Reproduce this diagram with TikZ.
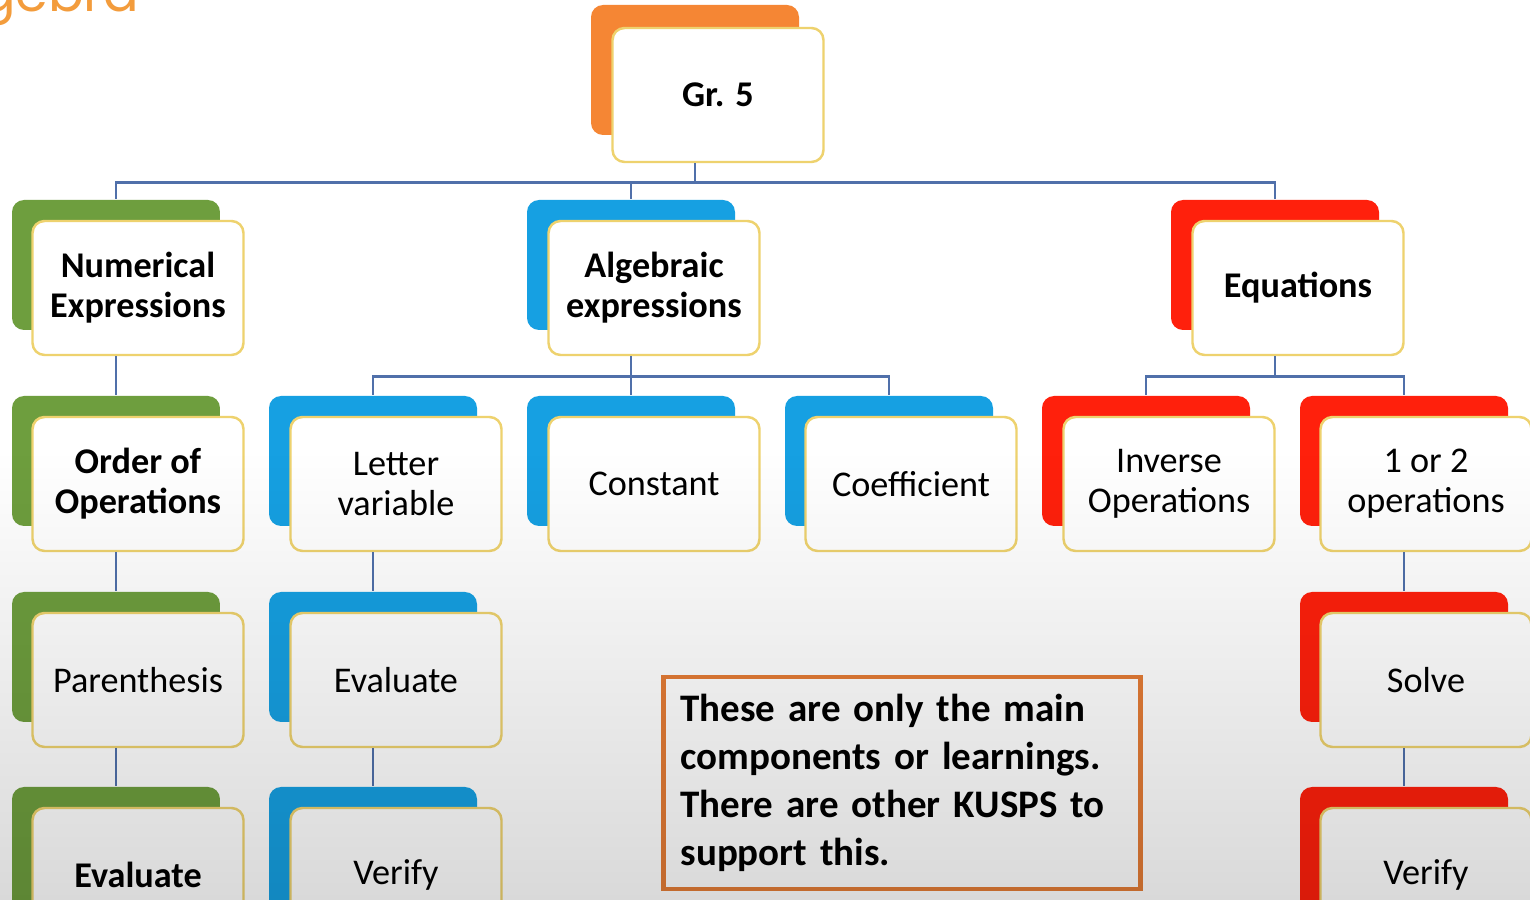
\documentclass[tikz,border=0pt]{standalone}
\usepackage{fontspec}
\setmainfont{Carlito}
\newfontfamily\titlefont{Poppins}
\usetikzlibrary{fadings}
\definecolor{gradeorange}{RGB}{245,134,52}
\definecolor{numgreen}{RGB}{110,158,62}
\definecolor{algblue}{RGB}{22,160,226}
\definecolor{equred}{RGB}{255,32,12}
\definecolor{rim}{RGB}{238,210,110}
\definecolor{linkblue}{RGB}{80,112,170}
\definecolor{noteorange}{RGB}{228,124,54}
\definecolor{titleorange}{RGB}{243,156,60}
\tikzfading[name=fade down, top color=transparent!100, bottom color=transparent!0]
\tikzset{
  back/.style={fill=#1, rounded corners=1.2mm, minimum width=20.8mm, minimum height=13mm, inner sep=0},
  front/.style={draw=rim, line width=0.7pt, fill=white, rounded corners=1.2mm, minimum width=21.1mm,
    minimum height=13.4mm, inner sep=0, align=center, font=\fontsize{10.3}{11.4}\selectfont},
  link/.style={draw=linkblue, line width=0.8pt}
}
\begin{document}
\begin{tikzpicture}[x=0.1mm,y=-0.1mm]
\useasboundingbox (0,0) rectangle (1530,900);
\clip (0,0) rectangle (1530,900);
\fill [white] (0,0) rectangle (1530,900);

\node (ttl) at (140,12) [anchor=base east, inner sep=0, text=titleorange, font=\titlefont\fontsize{15}{18}\selectfont] {Algebra};

% top
\node (grB) at (695,70) [back=gradeorange] {};
\node (gr) at (718,95) [front] {\textbf{Gr. 5}};

% second row
\node (numB) at (116,265) [back=numgreen] {};
\node (num) at (138,288) [front] {\textbf{Numerical}\\\textbf{Expressions}};
\node (algB) at (631,265) [back=algblue] {};
\node (alg) at (654,288) [front] {\textbf{Algebraic}\\\textbf{expressions}};
\node (equB) at (1275,265) [back=equred] {};
\node (equ) at (1298,288) [front] {\textbf{Equations}};

% third row
\node (ordB) at (116,461) [back=numgreen] {};
\node (ord) at (138,484) [front] {\textbf{Order of}\\\textbf{Operations}};
\node (letB) at (373,461) [back=algblue] {};
\node (let) at (396,484) [front] {Letter\\variable};
\node (conB) at (631,461) [back=algblue] {};
\node (con) at (654,484) [front] {Constant};
\node (coeB) at (889,461) [back=algblue] {};
\node (coe) at (911,484) [front] {Coefficient};
\node (invB) at (1146,461) [back=equred] {};
\node (inv) at (1169,484) [front] {Inverse\\Operations};
\node (oneB) at (1404,461) [back=equred] {};
\node (one) at (1426,484) [front] {1 or 2\\operations};

% fourth row
\node (parB) at (116,657) [back=numgreen] {};
\node (par) at (138,680) [front] {Parenthesis};
\node (evlB) at (373,657) [back=algblue] {};
\node (evl) at (396,680) [front] {Evaluate};
\node (solB) at (1404,657) [back=equred] {};
\node (sol) at (1426,680) [front] {Solve};

% last row
\node (evnB) at (116,852) [back=numgreen] {};
\node (evn) at (138,875) [front] {\textbf{Evaluate}};
\node (verlB) at (373,852) [back=algblue] {};
\node (verl) at (396,875) [front] {Verify};
\node (vereB) at (1404,852) [back=equred] {};
\node (vere) at (1426,875) [front] {Verify};

\draw [link] (grB |- gr.south) -- ++(0,19) -| (numB.north);
\draw [link] (grB |- gr.south) -- ++(0,19) -| (algB.north);
\draw [link] (grB |- gr.south) -- ++(0,19) -| (equB.north);

\draw [link] (algB |- alg.south) -- ++(0,20) -| (letB.north);
\draw [link] (algB |- alg.south) -- ++(0,20) -| (conB.north);
\draw [link] (algB |- alg.south) -- ++(0,20) -| (coeB.north);
\draw [link] (equB |- equ.south) -- ++(0,20) -| (invB.north);
\draw [link] (equB |- equ.south) -- ++(0,20) -| (oneB.north);

\draw [link] (numB |- num.south) -- (ordB.north);
\draw [link] (ordB |- ord.south) -- (parB.north);
\draw [link] (parB |- par.south) -- (evnB.north);
\draw [link] (letB |- let.south) -- (evlB.north);
\draw [link] (evlB |- evl.south) -- (verlB.north);
\draw [link] (oneB |- one.south) -- (solB.north);
\draw [link] (solB |- sol.south) -- (vereB.north);

\node (note) at (902,783) [draw=noteorange, line width=1.2pt, minimum width=47.7mm, minimum height=21.2mm,
  text width=44.3mm, align=left, font=\bfseries\fontsize{11.1}{13.6}\selectfont]
  {These are only the main\\components or learnings.\\There are other KUSPS to\\support this.};

%\draw[help lines] (0,0) grid[step=100] (1530,900);
\fill [black, opacity=0.15, path fading=fade down] (0,450) rectangle (1530,900);
\end{tikzpicture}
\end{document}
